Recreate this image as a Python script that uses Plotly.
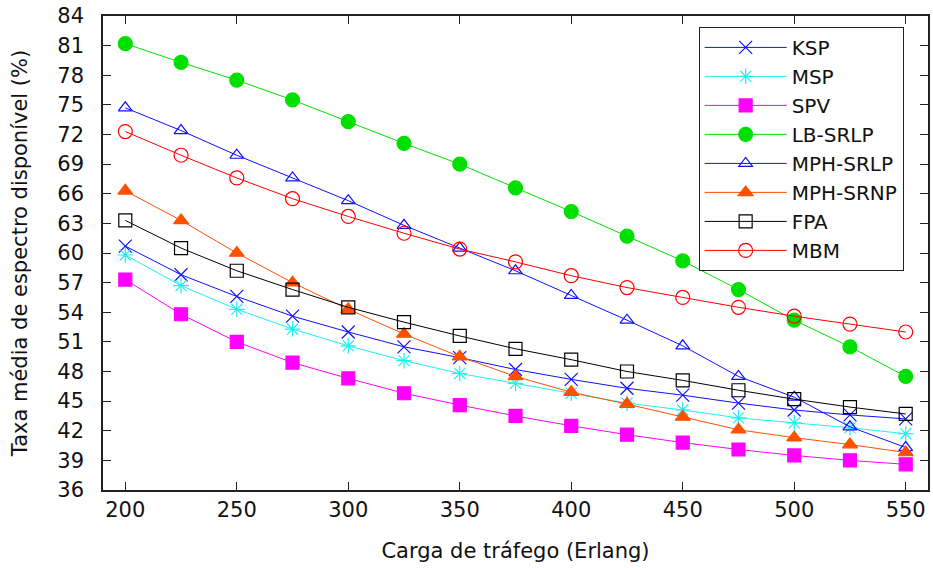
import plotly.graph_objects as go

carga = [200, 225, 250, 275, 300, 325, 350, 375, 400, 425, 450, 475, 500, 525, 550]

ksp = [60.7, 57.8, 55.6, 53.6, 52.0, 50.5, 49.4, 48.2, 47.2, 46.3, 45.6, 44.8, 44.1, 43.6, 43.2]
msp = [59.8, 56.7, 54.3, 52.3, 50.6, 49.1, 47.8, 46.8, 45.8, 44.8, 44.1, 43.3, 42.8, 42.3, 41.7]
spv = [57.3, 53.8, 51.0, 48.9, 47.3, 45.8, 44.6, 43.5, 42.5, 41.6, 40.8, 40.1, 39.5, 39.0, 38.6]
lb_srlp = [81.2, 79.3, 77.5, 75.5, 73.3, 71.1, 69.0, 66.6, 64.2, 61.7, 59.2, 56.3, 53.2, 50.5, 47.5]
mph_srlp = [74.7, 72.4, 69.9, 67.6, 65.3, 62.8, 60.5, 58.2, 55.7, 53.2, 50.6, 47.5, 45.4, 42.4, 40.3]
mph_srnp = [66.3, 63.3, 60.0, 57.0, 54.3, 51.8, 49.5, 47.5, 45.9, 44.7, 43.4, 42.1, 41.3, 40.6, 39.8]
fpa = [63.3, 60.5, 58.2, 56.3, 54.5, 53.0, 51.6, 50.3, 49.2, 48.0, 47.1, 46.1, 45.2, 44.4, 43.7]
mbm = [72.3, 69.9, 67.6, 65.5, 63.7, 62.0, 60.4, 59.1, 57.7, 56.5, 55.5, 54.5, 53.6, 52.8, 52.0]

y_ticks = list(range(36, 85, 3))
x_ticks = list(range(200, 551, 50))

series = [
    ("KSP", ksp, "#1010ff", "x-thin-open", 13),
    ("MSP", msp, "#20f0f0", "asterisk-open", 13),
    ("SPV", spv, "#ff00ff", "square", 13),
    ("LB-SRLP", lb_srlp, "#00e000", "circle", 14),
    ("MPH-SRLP", mph_srlp, "#1010ff", "triangle-up-open", 12),
    ("MPH-SRNP", mph_srnp, "#ff5000", "triangle-up", 13),
    ("FPA", fpa, "#000000", "square-open", 13),
    ("MBM", mbm, "#ff0000", "circle-open", 14),
]

fig = go.Figure()
for name, vals, color, sym, size in series:
    fig.add_trace(go.Scatter(
        x=carga, y=vals, name=name, mode="lines+markers",
        line=dict(color=color, width=1),
        marker=dict(symbol=sym, size=size, color=color,
                    line=dict(color=color, width=1.2)),
    ))

FS = 21
axis_common = dict(
    showline=True, linecolor="#222", linewidth=1.5, mirror="ticks",
    ticks="inside", ticklen=8, tickcolor="#222", tickwidth=1,
    showgrid=False, zeroline=False, automargin=False,
    ticklabeloverflow="allow",
    tickfont=dict(family="DejaVu Sans", size=FS, color="#111"),
)

fig.update_layout(
    width=933, height=568,
    margin=dict(l=103, r=5, t=16, b=78, autoexpand=False),
    paper_bgcolor="white", plot_bgcolor="white",
    font=dict(family="DejaVu Sans", size=FS, color="#111"),
    xaxis=dict(range=[190, 560], tickvals=x_ticks, ticklabelstandoff=0,
               title=dict(text="Carga de tráfego (Erlang)", standoff=22,
                          font=dict(size=FS)),
               **axis_common),
    yaxis=dict(range=[36, 84], tickvals=y_ticks, ticklabelstandoff=13,
               title=dict(text="Taxa média de espectro disponível (%)", standoff=24,
                          font=dict(size=FS)),
               **axis_common),
    legend=dict(x=0.722, y=0.977, xanchor="left", yanchor="top",
                bordercolor="#222", borderwidth=1, bgcolor="white",
                font=dict(family="DejaVu Sans", size=20, color="#111"),
                tracegroupgap=0, itemwidth=82),
    showlegend=True,
)

fig.write_html(
    "out.html",
    config={"displayModeBar": False},
    post_script="document.body.style.margin='0';document.body.style.overflow='hidden';",
)
